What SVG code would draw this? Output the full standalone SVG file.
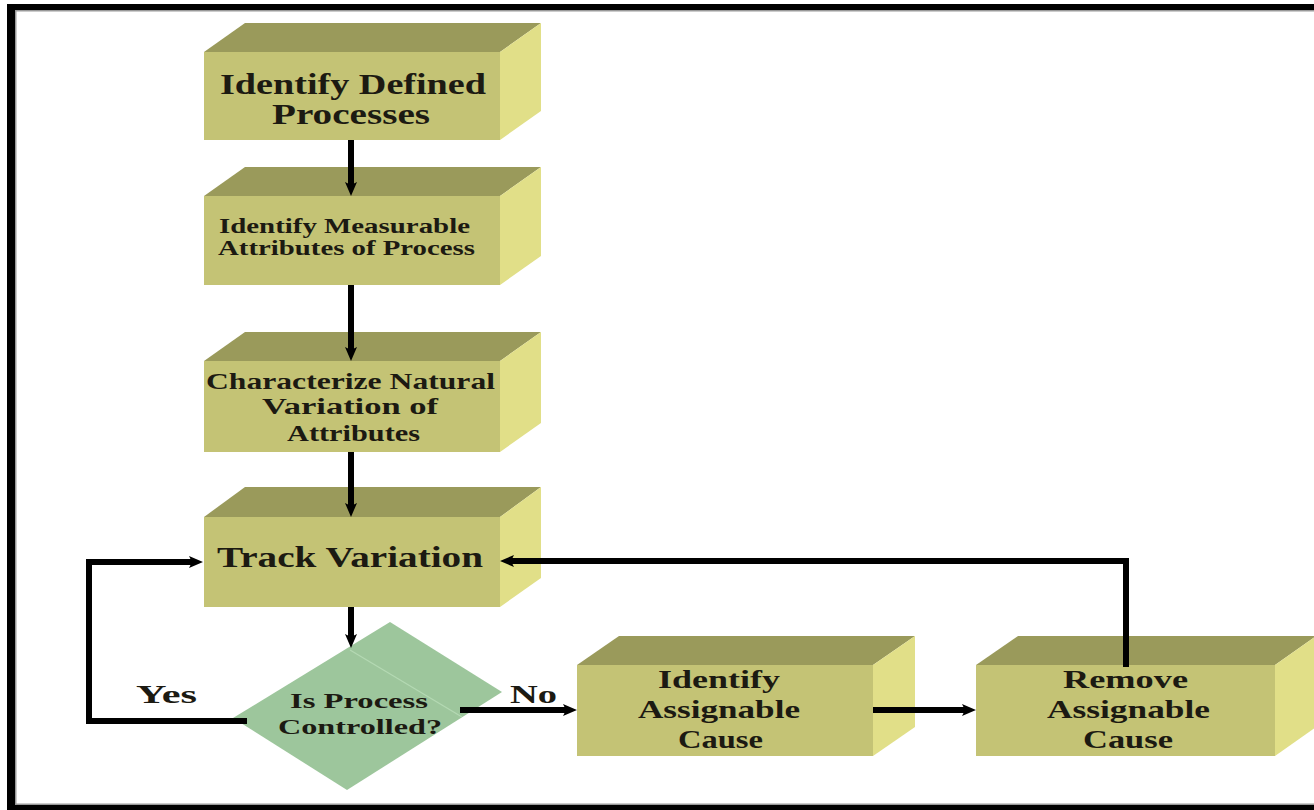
<svg xmlns="http://www.w3.org/2000/svg" width="1314" height="810" viewBox="0 0 1314 810">
<style>
.front{fill:#c4c375;}
.top{fill:#9a9a5b;}
.side{fill:#e1df88;}
.dia{fill:#9dc69c;}
.t{font-family:"Liberation Serif","Times New Roman",serif;font-weight:bold;fill:#1c1a12;text-anchor:start;}
.ln{fill:none;stroke:#000;stroke-width:6;stroke-linejoin:miter;marker-end:url(#ah);}
</style>
<defs>
<marker id="ah" markerUnits="userSpaceOnUse" viewBox="0 0 18 14" markerWidth="18" markerHeight="14" refX="9" refY="7" orient="auto">
<path d="M17,7 L3,1 L6,7 L3,13 Z" fill="#000"/>
</marker>
</defs>
<rect x="0" y="0" width="1314" height="810" fill="#fff"/>
<g id="frame">
<rect x="7" y="4" width="1307" height="6" fill="#000"/>
<rect x="15" y="10" width="1299" height="1.5" fill="#999"/>
<rect x="7" y="4" width="8" height="806" fill="#000"/>
<rect x="15" y="10" width="1.5" height="795" fill="#999"/>
<rect x="7" y="805" width="1307" height="5" fill="#000"/>
<rect x="15" y="803.5" width="1299" height="1.5" fill="#999"/>
</g>
<g id="n1">
<polygon class="top" points="204,52 245,23 541,23 500,52"/>
<polygon class="side" points="500,52 541,23 541,111 500,140"/>
<rect class="front" x="204" y="52" width="296" height="88"/>
<text class="t" font-size="30" x="220" y="94" textLength="266" lengthAdjust="spacingAndGlyphs">Identify Defined</text>
<text class="t" font-size="30" x="272" y="124" textLength="158" lengthAdjust="spacingAndGlyphs">Processes</text>
</g>
<g id="n2">
<polygon class="top" points="204,196 245,167 541,167 500,196"/>
<polygon class="side" points="500,196 541,167 541,256 500,285"/>
<rect class="front" x="204" y="196" width="296" height="89"/>
<text class="t" font-size="21" x="219" y="233" textLength="251" lengthAdjust="spacingAndGlyphs">Identify Measurable</text>
<text class="t" font-size="21" x="218" y="255" textLength="257" lengthAdjust="spacingAndGlyphs">Attributes of Process</text>
</g>
<g id="n3">
<polygon class="top" points="204,361 245,332 541,332 500,361"/>
<polygon class="side" points="500,361 541,332 541,423 500,452"/>
<rect class="front" x="204" y="361" width="296" height="91"/>
<text class="t" font-size="24" x="206" y="389" textLength="289" lengthAdjust="spacingAndGlyphs">Characterize Natural</text>
<text class="t" font-size="24" x="262" y="414" textLength="176" lengthAdjust="spacingAndGlyphs">Variation of</text>
<text class="t" font-size="24" x="287" y="441" textLength="133" lengthAdjust="spacingAndGlyphs">Attributes</text>
</g>
<g id="n4">
<polygon class="top" points="204,517 245,487 541,487 500,517"/>
<polygon class="side" points="500,517 541,487 541,578 500,607"/>
<rect class="front" x="204" y="517" width="296" height="90"/>
<text class="t" font-size="30" x="217" y="567" textLength="266" lengthAdjust="spacingAndGlyphs">Track Variation</text>
</g>
<g id="n5">
<polygon class="dia" points="390,622 502,692 347,790 233,718"/>
<line x1="350" y1="650" x2="462" y2="717" stroke="#b4d9b3" stroke-width="1.2"/>
<text class="t" font-size="22" x="290" y="708" textLength="138" lengthAdjust="spacingAndGlyphs">Is Process</text>
<text class="t" font-size="22" x="278" y="734" textLength="164" lengthAdjust="spacingAndGlyphs">Controlled?</text>
</g>
<g id="n6">
<polygon class="top" points="577,665 619,636 915,636 873,665"/>
<polygon class="side" points="873,665 915,636 915,727 873,756"/>
<rect class="front" x="577" y="665" width="296" height="91"/>
<text class="t" font-size="25" x="658" y="688" textLength="122" lengthAdjust="spacingAndGlyphs">Identify</text>
<text class="t" font-size="25" x="638" y="718" textLength="162" lengthAdjust="spacingAndGlyphs">Assignable</text>
<text class="t" font-size="25" x="678" y="748" textLength="85" lengthAdjust="spacingAndGlyphs">Cause</text>
</g>
<g id="n7">
<polygon class="top" points="976,665 1018,636 1316,636 1275,665"/>
<polygon class="side" points="1275,665 1316,636 1316,727 1275,756"/>
<rect class="front" x="976" y="665" width="299" height="91"/>
<text class="t" font-size="25" x="1063" y="688" textLength="125" lengthAdjust="spacingAndGlyphs">Remove</text>
<text class="t" font-size="25" x="1047" y="718" textLength="163" lengthAdjust="spacingAndGlyphs">Assignable</text>
<text class="t" font-size="25" x="1083" y="748" textLength="90" lengthAdjust="spacingAndGlyphs">Cause</text>
</g>
<g id="connectors">
<line class="ln" x1="351" y1="140" x2="351" y2="188"/>
<line class="ln" x1="351" y1="285" x2="351" y2="353"/>
<line class="ln" x1="351" y1="452" x2="351" y2="509"/>
<line class="ln" x1="351" y1="607" x2="351" y2="640"/>
<polyline class="ln" points="247,721 89,721 89,562 195,562"/>
<line class="ln" x1="460" y1="710" x2="569" y2="710"/>
<line class="ln" x1="873" y1="710" x2="968" y2="710"/>
<polyline class="ln" points="1126,667 1126,561 508,561"/>
</g>
<g id="labels">
<text class="t" font-size="26" x="136" y="703" textLength="61" lengthAdjust="spacingAndGlyphs">Yes</text>
<text class="t" font-size="26" x="510" y="703" textLength="47" lengthAdjust="spacingAndGlyphs">No</text>
</g>
</svg>
